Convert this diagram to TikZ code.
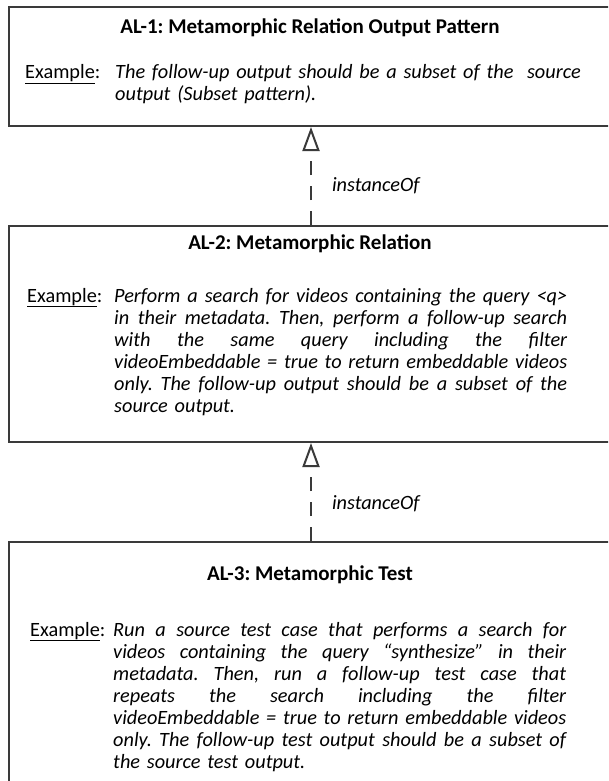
\documentclass[tikz,border=0pt]{standalone}
\usepackage{fontspec}
\setmainfont{Carlito}
\usetikzlibrary{arrows.meta}
\definecolor{edge}{HTML}{3A3A3A}
\newlength{\bodyw}
\setlength{\bodyw}{453pt}
\newcommand{\jl}[1]{\makebox[\bodyw][s]{\spaceskip=\fontdimen2\font plus 1fil\relax\xspaceskip=\spaceskip #1}\\}
\frenchspacing
\tikzset{
  umlbox/.style={draw=edge, line width=2pt, rectangle, inner sep=0pt, anchor=north west},
  titletext/.style={font=\fontsize{21}{24}\selectfont\bfseries, inner sep=0pt},
  labtext/.style={font=\fontsize{20.3}{22}\selectfont, inner sep=0pt, anchor=base west},
  bodytext/.style={font=\fontsize{20.3}{22}\selectfont\itshape, inner sep=0pt, anchor=base west, text width=\bodyw},
  inst/.style={draw=edge, line width=2pt, dash pattern=on 14pt off 11pt, -{Triangle[open, length=24pt, width=17pt, line width=2pt]}},
  instlab/.style={font=\fontsize{20.3}{22}\selectfont\itshape, inner sep=0pt, anchor=west, xshift=20pt}
}
\begin{document}
\begin{tikzpicture}[x=1pt,y=-1pt]
\clip (0,0) rectangle (608,781);
\fill[white] (0,0) rectangle (608,781);
% boxes
\node[umlbox, minimum width=604pt, minimum height=119pt] (al1) at (8,6) {};
\node[umlbox, minimum width=604pt, minimum height=216pt] (al2) at (8,225) {};
\node[umlbox, minimum width=604pt, minimum height=280pt] (al3) at (8,541) {};
% box 1
\node[titletext] (t1) at (310,28) {AL-1: Metamorphic Relation Output Pattern};
\node[labtext] (e1) at (25,79) {\underline{Example}:};
\node[bodytext, text width=480pt] (b1) at (115,79) {The follow-up output should be a subset of the\ \ source\\
output (Subset pattern).};
% box 2
\node[titletext] (t2) at (310,244) {AL-2: Metamorphic Relation};
\node[labtext] (e2) at (27,302) {\underline{Example}:};
\node[bodytext] (b2) at (114,302) {\jl{Perform a search for videos containing the query <q>}
\jl{in their metadata. Then, perform a follow-up search}
\jl{with the same query including the filter}
\jl{videoEmbeddable = true to return embeddable videos}
\jl{only. The follow-up output should be a subset of the}
source output.};
% box 3
\node[titletext] (t3) at (310,575) {AL-3: Metamorphic Test};
\node[labtext] (e3) at (30,636) {\underline{Example}:};
\node[bodytext] (b3) at (113,636) {\jl{Run a source test case that performs a search for}
\jl{videos containing the query “synthesize” in their}
\jl{metadata. Then, run a follow-up test case that}
\jl{repeats the search including the filter}
\jl{videoEmbeddable = true to return embeddable videos}
\jl{only. The follow-up test output should be a subset of}
the source test output.};
% connectors
\draw[inst] (al2.north) -- node[instlab, pos=0.4] (i1) {instanceOf} (al1.south);
\draw[inst] (al3.north) -- node[instlab, pos=0.38] (i2) {instanceOf} (al2.south);
\end{tikzpicture}
\end{document}
